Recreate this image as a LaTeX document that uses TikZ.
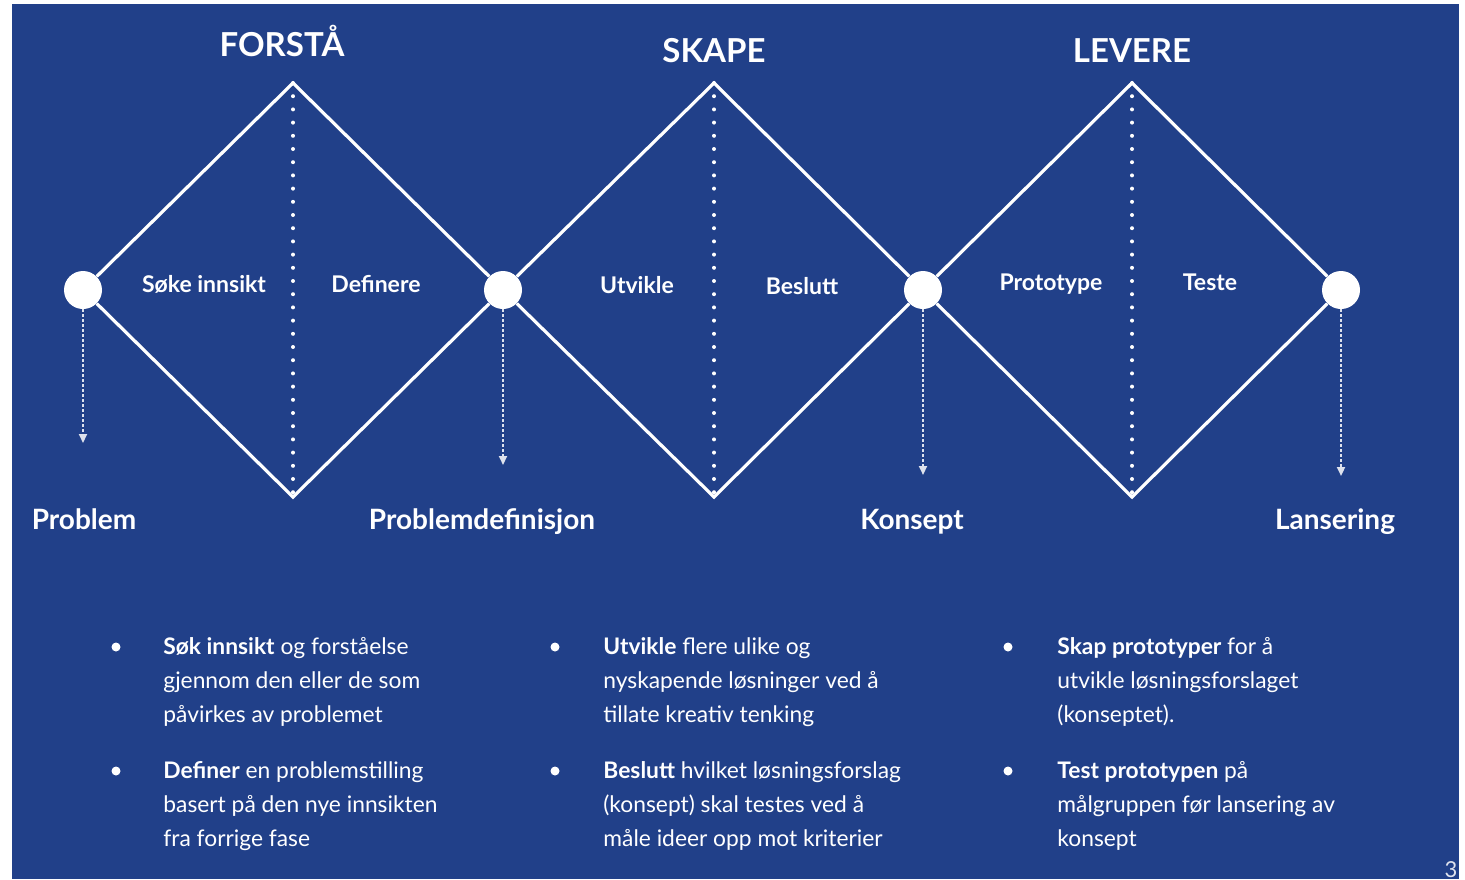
\documentclass[tikz,border=0pt]{standalone}
\usepackage{fontspec}
\setmainfont{Lato}
\usetikzlibrary{arrows.meta}
\definecolor{bgblue}{RGB}{33,64,137}
\begin{document}
\begin{tikzpicture}[x=0.5pt,y=-0.5pt,
  hub/.style={circle,fill=white,minimum size=19pt,inner sep=0pt},
  edge/.style={white,line width=1.6pt,line join=miter},
  divider/.style={white,line width=2pt,line cap=round,dash pattern=on 0pt off 6.6pt},
  outflow/.style={white!85!bgblue,line width=1pt,dash pattern=on 1.2pt off 1.3pt,-{Triangle[width=4pt,length=4.5pt]}},
  phase/.style={white,anchor=base,inner sep=0pt,font=\bfseries\fontsize{16.5}{20}\selectfont},
  milestone/.style={white,anchor=base,inner sep=0pt,font=\bfseries\fontsize{14}{17}\selectfont},
  innerlabel/.style={white,anchor=base,inner sep=0pt,font=\bfseries\fontsize{11.5}{14}\selectfont},
  bodytext/.style={white,font=\fontsize{11.4}{17}\selectfont,align=left,anchor=north west,inner sep=0pt},
  dotbullet/.style={circle,fill=white,minimum size=4.5pt,inner sep=0pt}
]
\useasboundingbox (0,0) rectangle (1465,879);
\fill[white] (0,0) rectangle (1465,879);
\fill[bgblue] (12,4) rectangle (1459,879);

% hubs and vertices
\coordinate (t1) at (293,83);  \coordinate (b1) at (293,497);
\coordinate (t2) at (714,83);  \coordinate (b2) at (714,497);
\coordinate (t3) at (1132,83); \coordinate (b3) at (1132,497);
\node[hub] (c1) at (83,290) {};
\node[hub] (c2) at (503,290) {};
\node[hub] (c3) at (923,290) {};
\node[hub] (c4) at (1341,290) {};

% diamonds
\draw[edge] (c1) -- (t1) -- (c2);
\draw[edge] (c1) -- (b1) -- (c2);
\draw[edge] (c2) -- (t2) -- (c3);
\draw[edge] (c2) -- (b2) -- (c3);
\draw[edge] (c3) -- (t3) -- (c4);
\draw[edge] (c3) -- (b3) -- (c4);

% dividers
\draw[divider] (t1) -- (b1);
\draw[divider] (t2) -- (b2);
\draw[divider] (t3) -- (b3);

% outflow arrows
\coordinate (a1) at (83,443);
\coordinate (a2) at (503,465);
\coordinate (a3) at (923,475);
\coordinate (a4) at (1341,476);
\draw[outflow] (c1) -- (a1);
\draw[outflow] (c2) -- (a2);
\draw[outflow] (c3) -- (a3);
\draw[outflow] (c4) -- (a4);

% phase titles
\node[phase] (p1) at (282,56) {FORSTÅ};
\node[phase] (p2) at (714,62) {SKAPE};
\node[phase] (p3) at (1132,62) {LEVERE};

% inner labels
\node[innerlabel] (l1) at (204,292) {Søke innsikt};
\node[innerlabel] (l2) at (376,292) {Definere};
\node[innerlabel] (l3) at (637,293) {Utvikle};
\node[innerlabel] (l4) at (802,294) {Beslutt};
\node[innerlabel] (l5) at (1051,290) {Prototype};
\node[innerlabel] (l6) at (1210,290) {Teste};

% milestones
\node[milestone] (m1) at (84,529) {Problem};
\node[milestone] (m2) at (482,529) {Problemdefinisjon};
\node[milestone] (m3) at (912,529) {Konsept};
\node[milestone] (m4) at (1335,529) {Lansering};

% bullets
\node[dotbullet] (d1) at (116,647) {};
\node[dotbullet] (d2) at (116,771) {};
\node[dotbullet] (d3) at (555,647) {};
\node[dotbullet] (d4) at (555,771) {};
\node[dotbullet] (d5) at (1008,647) {};
\node[dotbullet] (d6) at (1008,771) {};

\node[bodytext] (x1) at (163,637) {\textbf{Søk innsikt} og forståelse\\gjennom den eller de som\\påvirkes av problemet};
\node[bodytext] (x2) at (163,761) {\textbf{Definer} en problemstilling\\basert på den nye innsikten\\fra forrige fase};
\node[bodytext] (x3) at (603,637) {\textbf{Utvikle} flere ulike og\\nyskapende løsninger ved å\\tillate kreativ tenking};
\node[bodytext] (x4) at (603,761) {\textbf{Beslutt} hvilket løsningsforslag\\(konsept) skal testes ved å\\måle ideer opp mot kriterier};
\node[bodytext] (x5) at (1057,637) {\textbf{Skap prototyper} for å\\utvikle løsningsforslaget\\(konseptet).};
\node[bodytext] (x6) at (1057,761) {\textbf{Test prototypen} på\\målgruppen før lansering av\\konsept};

% page number
\node[white!85!bgblue,anchor=base,inner sep=0pt,font=\fontsize{11}{13}\selectfont] (pg) at (1451,877) {3};
\end{tikzpicture}
\end{document}
